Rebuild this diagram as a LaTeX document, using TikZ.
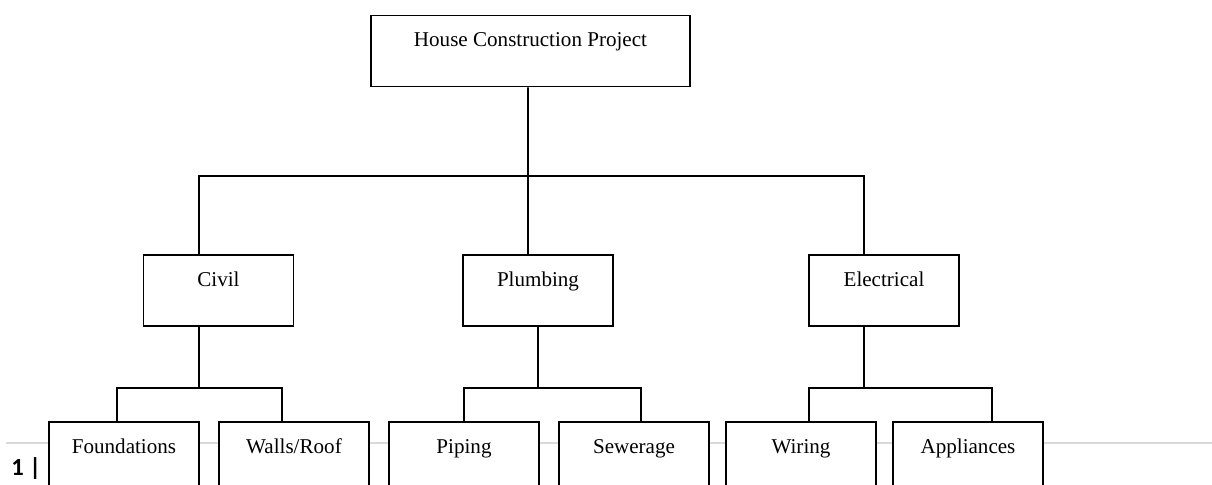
\documentclass[tikz,border=0pt]{standalone}
\usepackage{fontspec}
\setmainfont{Liberation Serif}
\newfontfamily\pagefont{Carlito}
\usetikzlibrary{calc}
\tikzset{
  wbsbox/.style={rectangle, draw=black, line width=1pt, fill=white,
    minimum width=3cm, inner xsep=0pt, inner ysep=0pt,
    text height=0.62cm, text depth=0.8cm,
    font=\fontsize{12}{14}\selectfont},
  link/.style={line width=1pt},
  footer/.style={draw=black!15, line width=0.8pt},
  pagenum/.style={font=\pagefont\bfseries\fontsize{14}{16}\selectfont, inner sep=0pt}
}

\begin{document}
\begin{tikzpicture}[x=0.02cm, y=-0.02cm]
\useasboundingbox (0,0) rectangle (1212,484);
\clip (0,0) rectangle (1212,484);

% page footer rule and number
\draw[footer] (6,443) -- (1212,443);
\node[pagenum, anchor=base west] (pageno) at (11,475) {1 |};

% Level 0
\node[wbsbox, minimum width=6.38cm] (house) at (530.5,51) {House Construction Project};

% Level 1
\node[wbsbox] (civil) at (218.5,290.5) {Civil};
\node[wbsbox] (plumb) at (538,290.5)   {Plumbing};
\node[wbsbox] (elec)  at (884,290.5)   {Electrical};

% Level 2
\node[wbsbox] (found)  at (124,457.5) {Foundations};
\node[wbsbox] (walls)  at (294,457.5) {Walls/Roof};
\node[wbsbox] (piping) at (464,457.5) {Piping};
\node[wbsbox] (sewer)  at (634,457.5) {Sewerage};
\node[wbsbox] (wiring) at (801,457.5) {Wiring};
\node[wbsbox] (appl)   at (968,457.5) {Appliances};

% bus points
\coordinate (topbus)  at (528,176);
\coordinate (civbus)  at (199,388);
\coordinate (plumbus) at (538,388);
\coordinate (elecbus) at (864,388);

% ── Level 0 to 1 ──────────────────────────────
\draw[link] ([xshift=-0.05cm]house.south) -- ([xshift=-0.2cm]plumb.north);
\draw[link] ([xshift=-0.39cm]civil.north) |- (topbus) -| ([xshift=-0.4cm]elec.north);

% ── Civil ──────────────────────────────
\draw[link] ([xshift=-0.39cm]civil.south) -- (civbus);
\draw[link] ([xshift=-0.14cm]found.north) |- (civbus) -| ([xshift=-0.24cm]walls.north);

% ── Plumbing ──────────────────────────────
\draw[link] (plumb.south) -- (plumbus);
\draw[link] (piping.north) |- (plumbus) -| ([xshift=0.14cm]sewer.north);

% ── Electrical ──────────────────────────────
\draw[link] ([xshift=-0.4cm]elec.south) -- (elecbus);
\draw[link] ([xshift=0.16cm]wiring.north) |- (elecbus) -| ([xshift=0.48cm]appl.north);

\end{tikzpicture}
\end{document}
